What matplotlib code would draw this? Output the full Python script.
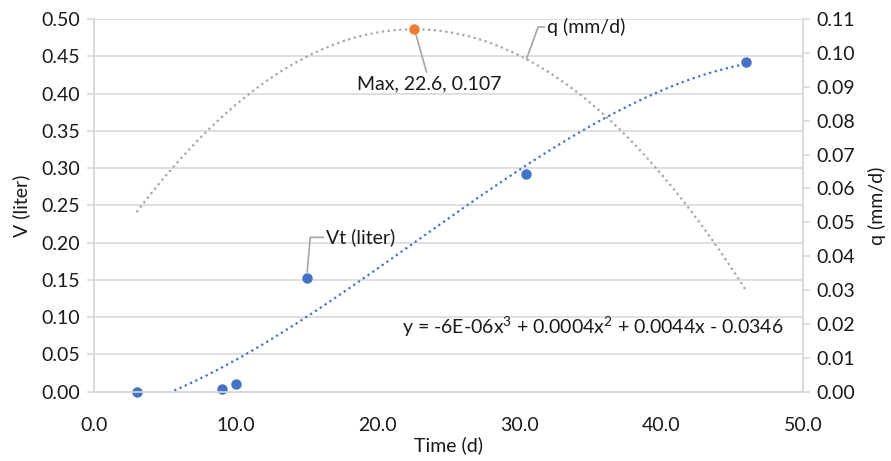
import numpy as np
import matplotlib
matplotlib.use("Agg")
import matplotlib.pyplot as plt

plt.rcParams['font.family'] = ['Lato', 'DejaVu Sans']
plt.rcParams['mathtext.fontset'] = 'custom'
plt.rcParams['mathtext.rm'] = 'Lato'
plt.rcParams['mathtext.it'] = 'Lato'

# measured volume
time_d = [3.0, 9.0, 10.0, 15.0, 30.5, 46.0]
vt_liter = [0.000, 0.003, 0.011, 0.153, 0.292, 0.442]

# q curve
q_time = [3, 5, 7.5, 10, 12.5, 15, 17.5, 20, 22.6, 25, 27.5, 30, 32.5, 35, 37.5, 40, 42.5, 46]
q_mm_d = [0.053, 0.063, 0.075, 0.085, 0.093, 0.099, 0.103, 0.106, 0.107, 0.106,
          0.104, 0.099, 0.093, 0.085, 0.076, 0.064, 0.051, 0.030]
q_max_t, q_max = 22.6, 0.107

eq_text = "y = -6E-06x$^3$ + 0.0004x$^2$ + 0.0044x - 0.0346"

blue = '#4472C4'
orange = '#ED7D31'
gray = '#A5A5A5'
grid_c = '#D9D9D9'
txt_c = '#1A1A1A'
fs = 14

fig = plt.figure(figsize=(8.91, 4.61), dpi=100)
ax = fig.add_axes([0.1055, 0.1503, 0.7957, 0.8085])
ax2 = ax.twinx()

# cubic trendline like Excel
coef = np.polyfit(time_d, vt_liter, 3)
tt = np.linspace(min(time_d), max(time_d), 200)
ax.plot(tt, np.polyval(coef, tt), color=blue, lw=1.6, ls=(0, (1, 1.6)), zorder=3)
ax.plot(time_d, vt_liter, 'o', color=blue, ms=6.5, zorder=4, clip_on=False)

# smooth q curve through the read values
qcoef = np.polyfit(q_time, q_mm_d, 2)
tq = np.linspace(min(q_time), max(q_time), 200)
ax2.plot(tq, np.polyval(qcoef, tq), color=gray, lw=1.6, ls=(0, (1, 1.6)), zorder=3)
ax2.plot([q_max_t], [q_max], 'o', color=orange, ms=6.5, zorder=4)

ax.set_xlim(0, 50)
ax.set_ylim(0, 0.5)
ax2.set_ylim(0, 0.11)
ax.set_xticks(np.arange(0, 51, 10))
ax.set_xticklabels([f"{v:.1f}" for v in np.arange(0, 51, 10)])
ax.set_yticks(np.arange(0, 0.501, 0.05))
ax.set_yticklabels([f"{v:.2f}" for v in np.arange(0, 0.501, 0.05)])
ax2.set_yticks(np.arange(0, 0.111, 0.01))
ax2.set_yticklabels([f"{v:.2f}" for v in np.arange(0, 0.111, 0.01)])

ax.grid(axis='y', color=grid_c, lw=1.2)
ax.set_axisbelow(True)
for a in (ax, ax2):
    for s in a.spines.values():
        s.set_color(grid_c)
        s.set_linewidth(1.2)
    a.spines['top'].set_visible(False)
    a.tick_params(labelsize=fs, labelcolor=txt_c)
ax.tick_params(axis='y', length=5, color=grid_c, width=1.2, pad=5)
ax2.tick_params(axis='y', length=5, color=grid_c, width=1.2, pad=5)
ax.tick_params(axis='x', length=0, pad=18)

ax.set_xlabel("Time (d)", fontsize=fs, labelpad=2, color=txt_c)
ax.set_ylabel("V (liter)", fontsize=fs, labelpad=8, color=txt_c)
ax2.set_ylabel("q (mm/d)", fontsize=fs, labelpad=9, color=txt_c)

lead = dict(arrowstyle='-', color=gray, lw=1.2, shrinkA=0, shrinkB=0)
ax.annotate("Vt (liter)", xy=(time_d[3], vt_liter[3]), xytext=(14, 29),
            textcoords='offset points', fontsize=fs, va='center', ha='left', color=txt_c,
            arrowprops=dict(lead, connectionstyle="angle,angleA=0,angleB=85,rad=0", shrinkB=4))
ax2.annotate("q (mm/d)", xy=(30.5, 0.0982), xytext=(15, 23),
             textcoords='offset points', fontsize=fs, va='center', ha='left', color=txt_c,
             arrowprops=dict(lead, connectionstyle="angle,angleA=0,angleB=70,rad=0"))
ax2.annotate("Max, 22.6, 0.107", xy=(q_max_t, q_max), xytext=(11, -33),
             textcoords='offset points', fontsize=fs, va='top', ha='center', color=txt_c,
             arrowprops=dict(lead, shrinkB=2))
ax.text(21.7, 0.087, eq_text, fontsize=fs, va='center', ha='left', color=txt_c)

fig.savefig("out.png", dpi=100)
